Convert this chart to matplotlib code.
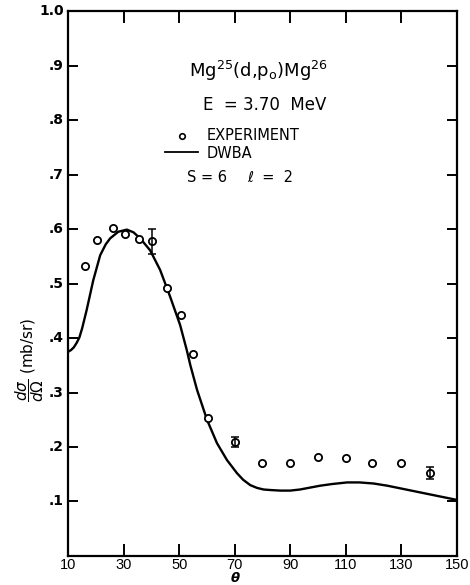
import matplotlib
matplotlib.use("Agg")
import matplotlib.pyplot as plt

# Experimental points
exp_theta = [16, 20.5, 26, 30.5, 35.5, 40, 45.5, 50.5, 55, 60.5, 70, 80, 90, 100, 110, 119.5, 130, 140.5]
exp_sigma = [0.532, 0.580, 0.602, 0.591, 0.581, 0.578, 0.491, 0.442, 0.371, 0.254, 0.209, 0.171, 0.171, 0.182, 0.180, 0.170, 0.170, 0.153]
# error bars (symmetric half-widths) only on some points
err_theta = [40, 70, 140.5]
err_sigma = [0.578, 0.209, 0.153]
err_size = [0.023, 0.009, 0.011]

# DWBA curve
dwba_theta = [10, 11, 12, 13, 14, 15, 16.6, 19, 21.5, 23.5, 25.1, 28, 31.1, 33.5, 35.9, 39.5, 43.1, 46.7, 50.3, 52.7, 54, 56.4,
              60, 63.6, 67.2, 70.8, 73, 75.6, 78, 80.4, 83, 86.4, 90, 93.5, 100.8, 105, 110.5, 115, 120.1, 125, 129.8, 139.4, 150]
dwba_sigma = [0.375, 0.378, 0.383, 0.391, 0.401, 0.418, 0.451, 0.506, 0.552, 0.572, 0.583, 0.595, 0.599, 0.594, 0.583, 0.561, 0.525, 0.476, 0.424, 0.378, 0.350, 0.305,
              0.250, 0.207, 0.176, 0.152, 0.140, 0.130, 0.125, 0.122, 0.121, 0.120, 0.120, 0.122, 0.129, 0.132, 0.135, 0.135, 0.133, 0.129, 0.124, 0.114, 0.103]

x_ticks = [30, 50, 70, 90, 110, 130]
x_label_pos = [10, 30, 50, 70, 90, 110, 130, 150]
x_labels = ["10", "30", "50", "70", "90", "110", "130", "150"]
y_ticks = [0.1, 0.2, 0.3, 0.4, 0.5, 0.6, 0.7, 0.8, 0.9]
y_label_pos = [0.1, 0.2, 0.3, 0.4, 0.5, 0.6, 0.7, 0.8, 0.9, 1.0]
y_labels = [".1", ".2", ".3", ".4", ".5", ".6", ".7", ".8", ".9", "1.0"]

fig = plt.figure(figsize=(4.7, 5.85), dpi=100)
ax = fig.add_axes([0.1453, 0.0496, 0.8264, 0.9314])
ax.set_xlim(10, 150)
ax.set_ylim(0, 1.0)

ax.plot(dwba_theta, dwba_sigma, color="black", lw=1.7)
ax.plot(exp_theta, exp_sigma, linestyle="none", marker="o", markersize=5.2,
        markerfacecolor="white", markeredgecolor="black", markeredgewidth=1.3)
ax.errorbar(err_theta, err_sigma, yerr=err_size, fmt="none", ecolor="black",
            elinewidth=1.1, capsize=3, capthick=1.1)

for s in ax.spines.values():
    s.set_linewidth(1.6)

ax.set_xticks(x_ticks)
ax.set_xticklabels([])
ax.set_yticks(y_ticks)
ax.set_yticklabels([])
ax.tick_params(axis="x", direction="in", length=8.5, width=1.4, top=True, bottom=True)
ax.tick_params(axis="y", direction="in", length=7.5, width=1.4, left=True, right=True)

for xv, lab in zip(x_label_pos, x_labels):
    ax.text(xv, -0.003, lab, ha="center", va="top", fontsize=10.5,
            family="Liberation Sans", transform=ax.get_xaxis_transform())
for yv, lab in zip(y_label_pos, y_labels):
    ax.text(-0.012, yv, lab, ha="right", va="center", fontsize=10,
            transform=ax.get_yaxis_transform(), fontweight="bold")

fig.text(235 / 470, 0.0005, r"$\boldsymbol{\theta}$", ha="center", va="bottom", fontsize=9.5)
fig.text(0.064, 0.385, r"$\dfrac{d\sigma}{d\Omega}$ (mb/sr)", rotation=90,
         ha="center", va="center", fontsize=11)

# annotations
ax.text(0.491, 0.879, r"Mg$^{25}$(d,p$_{\rm o}$)Mg$^{26}$", transform=ax.transAxes,
        ha="center", va="baseline", fontsize=13)
ax.text(0.347, 0.818, "E  = 3.70  MeV", transform=ax.transAxes,
        ha="left", va="baseline", fontsize=12)
ax.plot([0.293], [0.771], transform=ax.transAxes, marker="o", markersize=4,
        markerfacecolor="white", markeredgecolor="black", markeredgewidth=1.2, linestyle="none")
ax.text(0.357, 0.771, "EXPERIMENT", transform=ax.transAxes, ha="left", va="center", fontsize=10.5)
ax.plot([0.249, 0.334], [0.742, 0.742], transform=ax.transAxes, color="black", lw=1.3)
ax.text(0.357, 0.739, "DWBA", transform=ax.transAxes, ha="left", va="center", fontsize=10.5)
ax.text(0.306, 0.694, "S = 6", transform=ax.transAxes, ha="left", va="center", fontsize=10.5)
ax.text(0.46, 0.694, "\u2113  =  2", transform=ax.transAxes, ha="left", va="center", fontsize=10.5)

fig.savefig("out.png", dpi=100)
